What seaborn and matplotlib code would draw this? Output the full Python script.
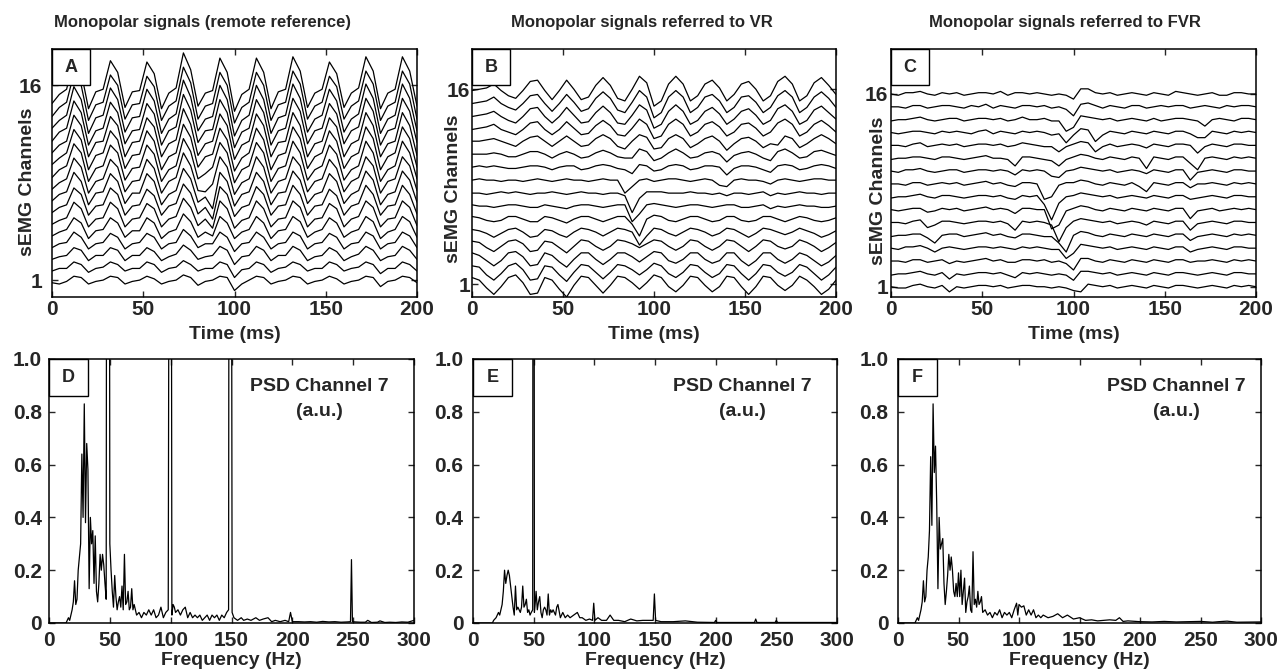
import numpy as np
import pandas as pd
import seaborn as sns
import matplotlib
matplotlib.use("Agg")
import matplotlib.pyplot as plt
from matplotlib.patches import Rectangle

# sEMG traces: one sample every 4 ms, 0..200 ms
time_ms = np.arange(0, 201, 4)

# deviation of each trace from its channel line, in tenths of a channel step
# rows are channel 1 ... channel 16
traces_a = [
    "-2 -3 -1 3 2  -3 -1 0 3 2  -3 -1 0 3 1  -3 -1 0 4 2  -4 -1 0 3 2  -8 -3 0 3 2  -3 -1 0 3 2  -3 -1 0 3 1  -3 -1 0 3 2  -5 -1 0 3 2  -2",
    "-3 -1 -1 4 2  -4 -1 0 4 2  -3 -1 -1 4 2  -4 -1 0 5 2  -3 -1 -1 4 2  -8 -2 -1 4 2  -4 -1 0 4 2  -3 -1 -1 4 2  -3 -1 0 4 2  -5 -1 -1 4 2  -3",
    "-4 -2 -1 5 3  -5 -1 -1 5 3  -5 -1 -1 5 2  -5 -2 0 7 3  -4 -2 -1 6 3  -8 -2 -1 6 3  -5 -1 -1 6 3  -5 -2 -1 5 2  -5 -2 0 6 3  -5 -2 -1 6 3  -4",
    "-5 -2 -1 7 3  -6 -2 -1 6 3  -6 -2 -1 6 3  -6 -2 -1 9 4  -5 -2 -2 7 3  -8 -2 -1 7 3  -6 -2 -1 7 4  -6 -2 -1 6 3  -6 -2 -1 7 4  -6 -2 -1 7 4  -5",
    "-6 -3 -1 8 4  -8 -2 -1 8 4  -7 -2 -2 8 4  -8 -3 -1 11 5  -7 -3 -6 9 4  -8 -3 -1 9 4  -8 -2 -1 9 5  -7 -3 -1 8 4  -7 -3 -1 9 5  -8 -3 -1 9 5  -7",
    "-7 -4 -2 10 5  -9 -3 -2 10 5  -9 -3 -2 9 5  -9 -3 -1 13 6  -8 -3 -10 11 5  -10 -4 -2 11 5  -9 -3 -2 11 6  -9 -3 -2 9 5  -9 -3 -1 11 6  -9 -3 -2 11 6  -8",
    "-8 -4 -2 11 6  -10 -3 -2 11 6  -10 -3 -2 10 5  -10 -3 -1 14 7  -9 -4 -13 12 6  -11 -4 -2 12 6  -10 -3 -2 13 6  -10 -3 -2 10 5  -10 -3 -1 13 6  -10 -3 -2 13 6  -9",
    "-9 -4 -2 13 6  -12 -3 -2 12 6  -11 -3 -3 12 6  -12 -4 -1 16 8  -10 -6 -15 13 6  -13 -4 -2 13 6  -12 -3 -2 14 7  -11 -4 -2 12 6  -11 -4 -1 14 7  -12 -4 -2 14 7  -10",
    "-10 -5 -2 14 7  -13 -4 -2 13 7  -12 -4 -3 13 6  -13 -4 -1 18 8  -11 -12 -6 15 7  -14 -5 -2 15 7  -13 -4 -2 15 8  -12 -4 -2 13 6  -12 -4 -1 15 8  -13 -4 -2 15 8  -11",
    "-11 -5 -2 15 8  -14 -4 -2 14 8  -13 -4 -3 14 7  -14 -5 -2 19 9  -12 -8 -3 16 8  -15 -5 -2 16 8  -14 -4 -2 17 8  -13 -5 -2 14 7  -13 -5 -2 17 8  -14 -5 -2 17 8  -12",
    "-11 -6 -2 16 8  -15 -4 -2 15 8  -14 -4 -3 15 7  -15 -5 -2 20 10  -13 -5 -3 17 8  -16 -6 -2 17 8  -15 -4 -2 18 9  -14 -5 -2 15 7  -14 -5 -2 18 9  -15 -5 -2 18 9  -13",
    "-12 -6 -3 17 9  -15 -4 -3 16 9  -15 -4 -3 15 8  -15 -5 -2 22 10  -14 -5 -3 18 9  -17 -6 -3 18 9  -15 -4 -3 19 9  -15 -5 -3 15 8  -15 -5 -2 19 9  -15 -5 -3 19 9  -14",
    "-13 -6 -3 18 9  -16 -5 -3 17 9  -15 -5 -4 16 8  -16 -5 -2 23 11  -14 -5 -4 19 9  -18 -6 -3 19 9  -16 -5 -3 20 10  -15 -5 -3 16 8  -15 -5 -2 20 10  -16 -5 -3 20 10  -14",
    "-13 -7 -3 19 9  -17 -5 -3 18 9  -16 -5 -4 17 8  -17 -6 -2 24 11  -15 -6 -4 20 9  -19 -7 -3 20 9  -17 -5 -3 21 10  -16 -6 -3 17 8  -16 -6 -2 21 10  -17 -6 -3 21 10  -15",
    "-14 -7 -3 19 10  -17 -5 -3 18 10  -16 -5 -4 17 9  -17 -6 -2 24 12  -16 -6 -4 20 10  -19 -7 -3 20 10  -17 -5 -3 21 11  -16 -6 -3 17 9  -16 -6 -2 21 11  -17 -6 -3 21 11  -16",
    "-14 -7 -3 20 10  -18 -5 -3 19 10  -17 -5 -4 18 9  -18 -6 -2 25 12  -16 -6 -4 21 10  -20 -7 -3 21 10  -18 -5 -3 22 11  -17 -6 -3 18 9  -17 -6 -2 22 11  -18 -6 -3 22 11  -16",
]

traces_b = [
    "5 3 -3 -8 -2  5 7 1 -8 -7  5 3 -4 -10 -1  6 5 -1 -7 -1  6 5 1 -4 1  7 5 -2 -6 -1  6 5 -1 -6 -2  6 5 -2 -8 -2  6 5 -1 -5 -1  6 3 -2 -8 -4  3",
    "4 3 -3 -7 -2  4 6 1 -7 -6  4 3 -3 -8 -1  5 4 -1 -6 -1  5 4 1 -3 1  6 4 -2 -5 -1  5 4 -1 -5 -2  5 4 -2 -7 -2  5 4 -1 -4 -1  5 3 -2 -7 -3  3",
    "4 2 -2 -6 -2  4 5 1 -6 -5  4 2 -3 -7 -1  4 4 -1 -5 -1  4 4 1 -3 1  5 4 -2 -4 -1  4 4 -1 -4 -2  4 4 -2 -6 -2  4 4 -1 -4 -1  4 2 -2 -6 -3  2",
    "3 2 -2 -5 -1  3 4 1 -5 -4  3 2 -2 -6 -1  4 3 -1 -4 -1  4 3 1 -2 1  4 3 -1 -4 -1  4 3 -1 -4 -1  4 3 -1 -5 -1  4 3 -1 -3 -1  4 2 -1 -5 -2  2",
    "2 1 -1 -4 -1  2 3 0 -4 -3  2 1 -2 -4 0  3 2 0 -3 0  3 2 0 -10 -3  3 2 -1 -3 0  3 2 0 -3 -1  3 2 -1 -4 -1  3 2 0 -2 0  3 1 -1 -4 -2  1",
    "2 1 -1 -2 -1  2 2 0 -2 -2  2 1 -1 -3 0  2 2 0 -2 0  2 2 -4 -13 0  3 2 -1 -2 0  2 2 0 -2 -1  2 2 -1 -2 -1  2 2 0 -2 0  2 1 -1 -2 -1  1",
    "1 0 0 -1 0  1 1 0 -1 -1  1 0 -1 -2 0  1 1 0 -1 0  1 1 -12 -6 1  2 1 0 -1 0  1 1 0 -1 0  1 1 -1 -1 0  1 -2 0 -1 0  1 0 0 -1 -1  0",
    "0 0 -1 0 1  0 1 0 -1 0  0 1 0 -1 0  1 0 0 -1 0  0 -2 -15 -4 1  1 1 0 0 0  1 0 0 -1 0  -2 0 0 -1 0  1 -2 0 -1 0  1 0 0 -1 0  0",
    "0 1 0 0 -1  0 0 -1 0 1  0 -1 0 1 0  0 -1 0 1 0  0 -10 -5 0 1  -1 0 1 1 0  -1 0 1 0 -4  -5 0 1 0 0  -1 -3 0 1 0  -1 0 1 1 0  0",
    "0 1 0 1 0  -1 -1 0 1 1  0 -2 0 1 1  -2 -1 1 2 1  -1 -2 -5 2 1  -3 -2 1 2 1  -2 -1 1 1 0  -6 -1 1 1 0  -2 -4 1 2 1  -2 -1 1 2 1  -1",
    "0 0 0 1 0  -2 -2 0 2 2  0 -3 0 2 0  -3 -2 1 3 1  -2 -3 -3 4 2  -5 -3 1 4 1  -3 -2 1 2 0  -6 -1 1 2 0  -3 -5 2 4 1  -3 -2 2 3 1  -1",
    "0 0 1 2 0  -2 -4 0 3 4  0 -4 0 4 0  -4 -3 2 5 2  -4 -6 0 5 3  -6 -5 2 5 2  -5 -2 2 4 0  -7 -2 2 3 0  -5 -2 -3 4 2  -5 -2 2 5 2  -2",
    "-1 0 1 3 -1  -3 -5 -1 4 5  -1 -5 -1 5 0  -5 -4 2 6 2  -5 -6 0 7 3  -8 -6 3 7 3  -6 -3 3 5 1  -6 -3 3 4 0  -6 -3 4 7 3  -6 -3 3 6 2  -3",
    "-1 0 1 3 -1  -4 -6 -1 5 6  -1 -6 -1 6 0  -6 -5 2 7 2  -6 -7 0 8 4  -10 -7 3 8 3  -7 -4 3 6 1  -7 -3 3 5 0  -7 -4 5 8 3  -7 -4 4 7 2  -3",
    "-1 0 1 4 -1  -4 -6 -1 5 6  -1 -7 -1 6 0  -7 -5 3 8 3  -6 -8 0 9 4  -12 -8 4 9 4  -8 -4 4 6 1  -8 -4 4 5 0  -8 -4 5 9 4  -8 -4 4 8 3  -4",
    "-1 0 1 4 -1  -5 -7 -1 6 7  -1 -8 -1 7 0  -8 -6 3 9 3  -7 -9 0 10 5  -13 -9 4 10 4  -9 -5 4 7 1  -9 -4 4 6 0  -9 -5 6 10 4  -9 -5 5 9 3  -4",
]

traces_c = [
    "0 -1 -1 1 2  0 -1 1 -4 0  -1 0 1 1 0  1 -1 0 1 1  0 0 -1 0 -1  -3 -4 2 1 0  1 -1 0 1 0  -1 1 0 -1 1  1 0 -1 0 1  0 -1 1 0 1  0",
    "-1 0 0 1 2  0 -1 1 -4 0  -1 0 1 1 0  1 -1 -3 1 0  1 0 -1 0 -1  -5 2 2 1 0  1 -1 0 1 0  -1 1 0 -1 1  1 0 -1 0 1  0 -1 1 1 0  0",
    "0 0 -1 1 1  -1 0 1 -2 0  -1 0 1 2 0  1 -1 -1 1 1  0 1 -1 0 -2  -7 2 2 0 -1  1 0 -1 1 0  -1 1 0 -1 1  1 -1 0 0 1  0 -1 1 0 1  0",
    "0 -1 1 1 2  0 -3 0 1 0  -1 0 1 1 0  1 0 -1 1 0  1 0 -1 -1 -8  -4 3 2 1 0  1 -1 0 1 0  -1 1 0 -1 1  1 -3 -1 0 1  0 -1 1 1 0  0",
    "-1 0 0 1 1  -2 -6 0 1 1  -1 0 1 2 0  1 -1 -2 1 1  0 -1 -1 -6 -13  0 3 2 0 -1  1 0 -1 1 0  -1 1 0 -1 1  1 -4 -1 0 1  0 -1 1 0 1  0",
    "0 0 -1 1 2  -4 -2 1 1 0  -1 0 1 1 0  1 -1 -6 1 0  1 0 -2 -15 -4  1 3 2 1 0  1 -1 0 1 0  -2 1 0 -1 1  1 -6 -1 0 1  0 -1 1 1 0  0",
    "0 -1 0 1 1  -2 -1 1 0 1  -1 0 1 2 0  1 0 -3 1 1  0 0 -15 -12 -1  1 3 2 0 -1  1 0 -1 1 0  -1 1 0 -1 1  1 -7 -1 0 1  -1 0 1 0 1  0",
    "-1 0 0 1 2  0 -1 1 1 0  -1 0 1 1 0  1 -1 -2 1 0  1 -6 -18 -5 0  1 3 2 1 0  1 -1 0 1 0  -1 1 0 -1 1  1 -2 -1 0 1  0 -1 1 1 0  0",
    "0 0 -1 1 1  -1 0 1 0 1  -1 0 1 2 0  1 -1 -2 1 1  0 -12 -10 -1 1  1 3 2 0 -1  1 0 -1 1 -2  -6 1 0 -1 1  1 -3 0 0 1  0 -1 1 0 1  0",
    "0 -1 1 1 2  0 -1 0 1 1  -1 0 1 1 0  1 0 -3 1 0  1 0 -4 -5 0  1 3 2 1 0  1 -1 0 1 0  -2 1 0 -1 1  1 -7 -1 0 1  0 -1 1 1 0  0",
    "-1 0 0 1 1  0 -1 1 1 0  -1 0 1 2 0  0 -1 -6 1 1  0 -1 -2 -6 -1  1 3 2 0 -1  1 0 -1 1 0  -8 1 0 -1 1  1 -4 -9 0 1  0 -1 1 0 1  0",
    "0 0 -1 1 2  -1 0 1 0 1  -1 0 1 1 0  1 -1 0 2 1  0 -1 -1 -5 -1  1 3 2 -5 -1  1 -1 0 1 0  -2 1 0 -1 1  1 0 -6 -1 1  0 -1 1 1 0  0",
    "0 -1 0 1 1  0 -1 1 0 1  0 -1 1 2 -1  1 0 -1 1 0  1 0 -2 -1 -8  -2 3 2 -7 -2  1 0 -1 1 0  -1 1 0 -1 1  1 -1 -4 -4 1  0 -1 1 0 1  0",
    "-1 0 0 1 2  0 -1 0 1 1  -1 0 1 1 0  1 -1 0 2 0  0 1 -1 -1 -9  -6 3 2 1 0  1 -1 0 1 0  -1 1 -1 0 1  1 0 -1 -5 0  1 0 -1 1 1  0",
    "0 0 -1 1 1  -1 0 1 1 0  -1 1 0 2 -1  1 0 -1 1 1  0 1 -1 0 -2  -7 2 3 1 -1  1 0 -1 1 1  -1 0 1 0 1  1 -1 0 1 0  -1 1 0 1 1  0",
    "0 -1 1 1 2  0 -1 1 0 1  -1 0 1 1 0  2 -1 1 1 0  1 0 -1 0 -1  -4 4 4 1 0  1 -1 0 1 0  -1 1 0 -1 2  1 0 -1 0 1  -1 -1 1 1 0  0",
]

# PSD of channel 7 (a.u.); peaks above 1 run off the top of the axes
freq_d = [0, 14, 16, 17, 18, 19, 20, 21, 22, 23,
          24, 25, 26, 27, 28, 29, 30, 31, 32, 33,
          34, 35, 36, 37, 38, 39, 40, 41, 42, 43,
          44, 45, 46, 47, 47.6, 49.4, 50, 51, 52, 53,
          54, 55, 56, 57, 58, 59, 60, 61, 62, 63,
          64, 65, 66, 67, 68, 69, 70, 72, 74, 76,
          78, 80, 82, 84, 86, 88, 90, 92, 94, 96,
          98, 99.2, 100.2, 101, 102, 103, 104, 106, 108, 110,
          112, 114, 116, 118, 120, 122, 124, 126, 128, 130,
          132, 134, 136, 138, 140, 142, 144, 146, 147.6, 148.2,
          149.6, 150.5, 152, 155, 158, 160, 163, 166, 170, 173,
          176, 180, 183, 186, 190, 194, 197, 198.5, 200, 205,
          210, 215, 220, 225, 230, 235, 240, 245, 247.8, 248.6,
          249.4, 252, 256, 260, 262, 265, 270, 272, 276, 280,
          285, 290, 295, 300]
psd_d = [0, 0, 0.02, 0.01, 0.03, 0.05, 0.08, 0.16, 0.07, 0.09,
         0.2, 0.25, 0.3, 0.64, 0.4, 0.83, 0.38, 0.68, 0.58, 0.13,
         0.4, 0.3, 0.35, 0.15, 0.33, 0.12, 0.08, 0.15, 0.26, 0.2,
         0.26, 0.22, 0.15, 0.09, 3.0, 3.0, 0.3, 0.2, 0.12, 0.06,
         0.18, 0.1, 0.05, 0.08, 0.1, 0.06, 0.14, 0.05, 0.26, 0.07,
         0.08, 0.12, 0.05, 0.06, 0.13, 0.05, 0.07, 0.03, 0.04, 0.02,
         0.04, 0.03, 0.05, 0.03, 0.05, 0.02, 0.03, 0.06, 0.02, 0.04,
         0.05, 3.0, 3.0, 0.03, 0.07, 0.06, 0.04, 0.05, 0.03, 0.05,
         0.06, 0.02, 0.04, 0.02, 0.03, 0.02, 0.03, 0.01, 0.02, 0.03,
         0.01, 0.03, 0.02, 0.03, 0.01, 0.03, 0.02, 0.04, 0.05, 3.0,
         3.0, 0.04, 0.02, 0.01, 0.02, 0.01, 0.015, 0.01, 0.02, 0.01,
         0.015, 0.02, 0.005, 0.01, 0.005, 0.01, 0.005, 0.04, 0.005, 0.005,
         0.004, 0.005, 0.003, 0.006, 0.004, 0.005, 0.003, 0.004, 0.005, 0.24,
         0.005, 0.004, 0.003, 0.003, 0.01, 0.002, 0.003, 0.008, 0.002, 0.003,
         0.002, 0.004, 0.003, 0.01]

freq_e = [0, 16, 17, 19, 21, 22, 23, 24, 25, 26,
          27, 28, 29, 30, 31, 32, 33, 34, 35, 36,
          37, 38, 39, 40, 41, 42, 43, 44, 45, 46,
          47, 48, 49.2, 49.6, 50.2, 50.6, 51, 52, 53, 54,
          55, 56, 57, 58, 59, 60, 61, 62, 63, 64,
          65, 66, 67, 68, 69, 70, 72, 74, 76, 78,
          80, 83, 86, 88, 90, 93, 96, 98.5, 99.5, 100.5,
          103, 106, 110, 113, 116, 120, 125, 130, 135, 140,
          145, 148.5, 149.5, 150.5, 155, 165, 175, 185, 199, 200,
          201, 215, 232, 233, 234, 249, 250, 251, 275, 300]
psd_e = [0, 0, 0.01, 0.02, 0.04, 0.03, 0.05, 0.07, 0.12, 0.2,
         0.15, 0.18, 0.2, 0.18, 0.14, 0.1, 0.06, 0.03, 0.14, 0.05,
         0.06, 0.05, 0.04, 0.06, 0.14, 0.06, 0.07, 0.09, 0.04, 0.05,
         0.03, 0.04, 0.05, 3.0, 3.0, 0.04, 0.06, 0.12, 0.05, 0.08,
         0.1, 0.04, 0.02, 0.05, 0.06, 0.05, 0.03, 0.11, 0.03, 0.05,
         0.04, 0.05, 0.04, 0.03, 0.06, 0.07, 0.02, 0.04, 0.02, 0.03,
         0.02, 0.03, 0.04, 0.02, 0.02, 0.01, 0.015, 0.01, 0.075, 0.01,
         0.02, 0.01, 0.01, 0.03, 0.01, 0.01, 0.005, 0.015, 0.008, 0.01,
         0.01, 0.01, 0.11, 0.01, 0.005, 0.005, 0.008, 0.003, 0.002, 0.01,
         0.002, 0.002, 0.002, 0.015, 0.002, 0.002, 0.01, 0.002, 0.002, 0.002]

freq_f = [0, 14, 16, 17, 18, 19, 20, 21, 22, 23,
          24, 25, 26, 27, 28, 29, 30, 31, 32, 33,
          34, 35, 36, 37, 38, 39, 40, 41, 42, 43,
          44, 45, 46, 47, 48, 49, 50, 51, 52, 53,
          54, 55, 56, 57, 58, 59, 60, 61, 62, 63,
          64, 65, 66, 67, 68, 69, 70, 72, 74, 76,
          78, 80, 82, 84, 86, 88, 90, 92, 94, 96,
          98, 99, 100, 102, 104, 106, 108, 110, 112, 114,
          116, 118, 120, 124, 128, 132, 136, 140, 145, 150,
          155, 160, 165, 170, 175, 180, 183, 186, 190, 200,
          210, 220, 230, 240, 250, 260, 265, 272, 280, 300]
psd_f = [0, 0, 0.02, 0.01, 0.03, 0.05, 0.08, 0.16, 0.08, 0.1,
         0.2, 0.25, 0.35, 0.63, 0.37, 0.83, 0.57, 0.67, 0.45, 0.13,
         0.4, 0.28, 0.3, 0.32, 0.15, 0.07, 0.12, 0.18, 0.26, 0.2,
         0.25, 0.2, 0.12, 0.1, 0.15, 0.1, 0.19, 0.1, 0.2, 0.07,
         0.12, 0.17, 0.04, 0.08, 0.1, 0.14, 0.05, 0.04, 0.27, 0.07,
         0.09, 0.06, 0.12, 0.07, 0.08, 0.1, 0.04, 0.05, 0.03, 0.04,
         0.02, 0.04, 0.03, 0.05, 0.02, 0.04, 0.03, 0.04, 0.02, 0.05,
         0.075, 0.03, 0.07, 0.06, 0.065, 0.03, 0.05, 0.03, 0.05, 0.02,
         0.03, 0.02, 0.03, 0.02, 0.025, 0.035, 0.02, 0.03, 0.015, 0.02,
         0.01, 0.012, 0.008, 0.01, 0.012, 0.01, 0.02, 0.006, 0.008, 0.005,
         0.004, 0.006, 0.004, 0.005, 0.006, 0.003, 0.005, 0.007, 0.003, 0.004]

titles = ["Monopolar signals (remote reference)",
          "Monopolar signals referred to VR",
          "Monopolar signals referred to FVR"]


def stack(rows):
    parts = []
    for ch, row in enumerate(rows, start=1):
        dev = np.array(row.split(), dtype=float) / 10.0
        assert dev.size == time_ms.size, (ch, dev.size)
        parts.append(pd.DataFrame({"time": time_ms, "level": ch + dev, "channel": ch}))
    return pd.concat(parts, ignore_index=True)


sns.set_style("ticks")
plt.rcParams["font.family"] = ["Liberation Sans", "DejaVu Sans"]
plt.rcParams["font.weight"] = "bold"
plt.rcParams["axes.labelweight"] = "bold"

W, H = 1280, 672
fig = plt.figure(figsize=(12.8, 6.72), dpi=100)


def add_axes_px(x0, x1, y0, y1):
    return fig.add_axes([x0 / W, 1 - y1 / H, (x1 - x0) / W, (y1 - y0) / H])


def letter_box(ax, letter, w_px, h_px):
    bb = ax.get_position()
    w = w_px / (bb.width * W)
    h = h_px / (bb.height * H)
    ax.add_patch(Rectangle((0, 1 - h), w, h, transform=ax.transAxes,
                           facecolor="white", edgecolor="black", linewidth=1.0,
                           zorder=5, clip_on=False))
    ax.text(w / 2, 1 - h / 2, letter, transform=ax.transAxes, ha="center",
            va="center", fontsize=13, fontweight="bold", zorder=6)


def frame(ax):
    for sp in ax.spines.values():
        sp.set_color("black")
        sp.set_linewidth(1.1)


#%% top row: stacked sEMG channels
top = [("A", traces_a, 52, 417, (-0.3, 18.8), 7.0, (-0.044, 0.464), 202),
       ("B", traces_b, 472, 836, (0.0, 19.1), 1.5, (-0.027, 0.435), 642),
       ("C", traces_c, 891, 1256, (0.2, 19.5), 2.2, (-0.011, 0.427), 1065)]

for (letter, rows, x0, x1, ylim, ypad, ylab_xy, title_x), title in zip(top, titles):
    ax = add_axes_px(x0, x1, 49, 297)
    sns.lineplot(data=stack(rows), x="time", y="level", units="channel",
                 estimator=None, color="black", linewidth=0.9, ax=ax, legend=False)
    ax.set_xlim(0, 200)
    ax.set_ylim(*ylim)
    ax.set_xticks([0, 50, 100, 150, 200])
    ax.set_yticks([1, 16])
    ax.tick_params(direction="in", top=True, right=True, length=4, width=1,
                   labelsize=15)
    ax.tick_params(axis="y", pad=ypad)
    ax.tick_params(axis="x", pad=2)
    ax.set_xlabel("Time (ms)", fontsize=14, fontweight="bold", labelpad=5)
    ax.set_ylabel("sEMG Channels", fontsize=14, fontweight="bold")
    ax.yaxis.set_label_coords(*ylab_xy)
    frame(ax)
    letter_box(ax, letter, 38, 36)
    fig.text(title_x / W, 1 - 22 / H, title, ha="center", va="center",
             fontsize=12, fontweight="bold")

#%% bottom row: PSD of channel 7
bottom = [("D", freq_d, psd_d, 49, 414, 0.740, 5),
          ("E", freq_e, psd_e, 473, 837, 0.739, 7),
          ("F", freq_f, psd_f, 898, 1261, 0.766, 7)]

for letter, freq, psd, x0, x1, tx, ypad in bottom:
    ax = add_axes_px(x0, x1, 359, 623)
    sns.lineplot(x=np.array(freq), y=np.array(psd), estimator=None,
                 color="black", linewidth=0.9, ax=ax)
    ax.set_xlim(0, 300)
    ax.set_ylim(0, 1.0)
    ax.set_xticks(range(0, 301, 50))
    ax.set_yticks([0, 0.2, 0.4, 0.6, 0.8, 1.0])
    ax.set_yticklabels(["0", "0.2", "0.4", "0.6", "0.8", "1.0"])
    ax.tick_params(direction="in", top=True, right=True, length=4, width=1,
                   labelsize=15)
    ax.tick_params(axis="y", pad=ypad)
    ax.tick_params(axis="x", pad=6)
    ax.set_xlabel("Frequency (Hz)", fontsize=14, fontweight="bold", labelpad=1)
    ax.set_ylabel("")
    frame(ax)
    letter_box(ax, letter, 39, 37)
    ax.text(tx, 0.894, "PSD Channel 7", transform=ax.transAxes, ha="center",
            va="center", fontsize=14, fontweight="bold")
    ax.text(tx, 0.803, "(a.u.)", transform=ax.transAxes, ha="center",
            va="center", fontsize=14, fontweight="bold")

fig.savefig("out.png", dpi=100)
